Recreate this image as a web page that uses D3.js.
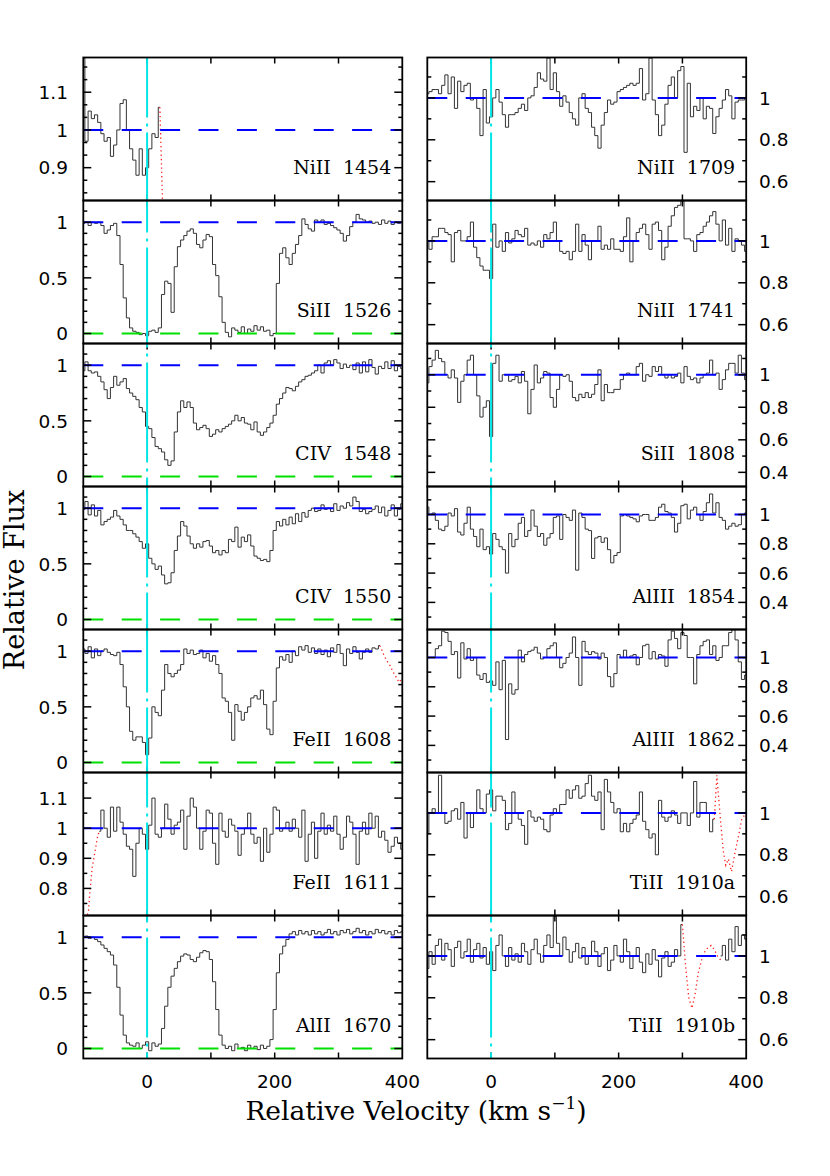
<!DOCTYPE html>
<html><head><meta charset="utf-8">
<script src="https://cdn.jsdelivr.net/npm/d3@7/dist/d3.min.js"></script>
<style>body{margin:0;background:#fff}svg{display:block}</style>
</head><body><svg id="chart" width="830" height="1176"></svg>
<script>
// ---------- data (velocity grid: 5 km/s bins) ----------
const velStep = 5;
const leftLabels  = ["NiII  1454","SiII  1526","CIV  1548","CIV  1550","FeII  1608","FeII  1611","AlII  1670"];
const rightLabels = ["NiII  1709","NiII  1741","SiII  1808","AlIII  1854","AlIII  1862","TiII  1910a","TiII  1910b"];
const xTickLabels = ["0","200","400"];

const NiII1454 = [1.19,0.97,1.05,1.03,1.04,1.02,0.99,0.97,0.98,0.93,0.96,1.00,1.07,1.08,1.00,0.95,0.92,0.88,0.95,0.88,0.90,0.95,0.99,0.98,1.06];
const NiII1454_redV = [20,21,22,23,24,25];
const NiII1454_redF = [1.06,1.00,0.94,0.88,0.82,0.78];

const SiII1526 = [0.99,1.00,0.97,1.00,0.99,1.00,0.97,0.90,0.93,0.97,
0.99,0.88,0.62,0.32,0.14,0.05,0.02,0.01,-0.01,0.00,
-0.02,0.02,0.03,0.01,0.05,0.35,0.47,0.45,0.19,0.60,
0.78,0.84,0.88,0.92,0.94,0.90,0.80,0.77,0.84,0.89,
0.87,0.62,0.52,0.33,0.10,0.01,-0.03,0.05,0.03,0.01,
0.06,0.00,0.04,0.02,0.07,0.03,0.06,0.02,0.03,-0.02,
0.00,0.45,0.72,0.77,0.68,0.62,0.72,0.80,0.88,1.03,
0.98,0.94,0.92,1.02,1.00,1.02,0.98,0.99,0.97,0.95,
0.93,0.90,0.83,0.88,0.96,1.00,1.07,1.03,1.02,1.00,
1.01,0.99,1.00,0.98,1.02,0.99,1.01,0.98,1.00,0.99,1.00];

const CIV1548 = [0.95,1.03,0.95,0.93,0.94,0.90,0.85,0.78,0.70,0.80,
0.90,0.82,0.85,0.88,0.79,0.75,0.72,0.69,0.62,0.58,
0.45,0.43,0.35,0.27,0.25,0.22,0.15,0.10,0.14,0.40,
0.58,0.68,0.62,0.67,0.62,0.48,0.42,0.44,0.46,0.43,
0.36,0.38,0.42,0.40,0.43,0.45,0.47,0.50,0.55,0.50,
0.53,0.48,0.47,0.42,0.49,0.40,0.37,0.40,0.44,0.48,
0.55,0.65,0.70,0.75,0.80,0.79,0.77,0.81,0.85,0.87,
0.90,0.91,0.93,0.95,1.00,0.93,1.02,1.04,1.00,1.05,
1.02,0.97,1.01,0.98,1.00,0.96,1.02,0.93,1.03,0.94,
1.05,0.98,0.92,0.99,0.97,1.03,0.97,1.04,0.95,0.99,0.97];

const CIV1550 = [0.99,1.06,0.94,1.03,0.93,0.98,0.85,0.88,0.90,0.92,
0.98,0.93,0.90,0.85,0.80,0.80,0.77,0.74,0.70,0.64,
0.68,0.55,0.50,0.45,0.48,0.40,0.32,0.33,0.42,0.62,
0.75,0.88,0.84,0.75,0.68,0.64,0.68,0.65,0.70,0.71,
0.66,0.60,0.62,0.58,0.62,0.60,0.72,0.70,0.83,0.65,
0.74,0.70,0.76,0.66,0.57,0.55,0.53,0.54,0.52,0.62,
0.80,0.88,0.84,0.90,0.85,0.92,0.86,0.95,0.88,0.96,
0.92,0.98,1.00,0.97,0.98,1.03,0.99,1.00,0.97,1.04,
0.98,1.02,1.00,1.05,1.02,1.10,1.06,0.97,0.99,0.95,
0.97,0.99,1.02,0.96,1.01,0.93,0.98,1.03,0.93,0.99,1.04];

const FeII1608 = [1.02,0.98,1.04,0.94,1.02,0.96,1.00,1.02,0.99,0.97,
0.96,0.99,0.88,0.68,0.50,0.28,0.20,0.23,0.23,0.18,
0.07,0.22,0.50,0.45,0.42,0.65,0.88,0.80,0.77,0.80,
0.83,0.88,1.02,0.98,1.01,0.97,0.98,1.01,0.94,0.98,
0.91,0.96,0.88,0.80,0.58,0.55,0.45,0.20,0.52,0.46,
0.38,0.45,0.50,0.58,0.60,0.57,0.65,0.52,0.30,0.25,
0.55,0.85,0.95,0.92,0.97,0.90,1.00,0.96,1.04,1.01,
1.05,0.99,1.03,0.98,1.02,0.97,1.01,0.95,1.03,0.99,
1.06,0.98,0.87,1.02,0.98,1.04,0.99,0.93,0.99,1.02,
0.99,1.03,1.02,1.05];
const FeII1608_redV = [365,370,375,380,385,390,395,400];
const FeII1608_redF = [1.05,0.98,0.92,0.88,0.82,0.77,0.72,0.76];

const FeII1611 = [0.99,1.06,1.00,0.97,1.07,0.99,1.07,1.02,0.98,0.94,
0.93,0.84,0.95,1.00,0.98,0.93,1.01,1.10,0.98,0.97,
1.00,1.08,1.03,0.98,1.01,1.02,1.06,0.93,1.04,1.10,
1.07,1.00,0.93,0.99,1.06,1.05,0.95,0.88,1.05,0.99,
0.97,1.03,1.01,0.99,0.91,0.98,1.00,1.05,0.98,0.95,
0.97,0.89,1.00,0.92,0.98,1.07,1.06,0.99,1.00,1.02,
0.99,1.03,1.00,0.97,1.06,0.89,0.98,1.02,0.90,0.99,
1.05,0.98,1.01,0.99,1.04,0.98,0.93,0.97,1.04,1.02,
0.98,0.88,0.99,1.02,0.98,1.05,1.00,1.04,0.97,0.99,
0.96,0.92,0.94,0.97,0.95,0.93];
const FeII1611_redV = [-97,-92,-90,-86,-81,-77,-73];
const FeII1611_redF = [0.70,0.72,0.78,0.87,0.93,0.98,0.99];

const AlII1670 = [1.00,1.01,0.99,1.00,0.98,0.96,0.93,0.90,0.87,0.84,
0.75,0.55,0.30,0.12,0.05,0.03,0.02,0.05,0.00,0.03,
0.06,-0.02,0.05,0.02,0.04,0.18,0.38,0.55,0.65,0.72,
0.78,0.83,0.85,0.84,0.80,0.78,0.82,0.86,0.88,0.87,
0.80,0.60,0.35,0.12,0.03,0.00,0.02,-0.02,0.04,0.00,
0.01,-0.02,0.03,0.00,0.02,-0.01,0.03,0.00,0.02,0.08,
0.35,0.68,0.85,0.92,0.98,1.03,1.05,1.02,1.06,1.03,
1.05,1.02,1.06,1.03,1.05,1.02,1.04,1.07,1.03,1.05,
1.02,1.06,1.04,1.07,1.03,1.05,1.08,1.04,1.06,1.02,
1.05,1.03,1.07,1.04,1.06,1.03,1.05,1.02,1.06,1.04,1.05];

const NiII1709 = [1.02,1.03,1.04,1.04,1.02,1.06,1.11,1.02,1.10,0.95,
1.08,1.03,1.06,1.07,0.99,1.00,0.95,0.82,1.04,0.88,
0.91,1.00,1.04,0.98,0.92,0.86,0.92,0.92,0.93,0.95,
0.97,0.94,1.00,1.01,1.05,1.12,1.09,1.08,1.19,1.04,
1.12,1.03,0.96,1.01,0.98,0.93,0.90,0.87,1.00,1.02,
0.95,0.93,0.86,0.82,0.76,0.87,0.93,0.99,0.97,0.98,
1.03,1.04,1.05,1.06,1.07,1.06,1.07,1.14,0.99,1.02,
1.19,0.99,0.92,0.82,0.87,0.97,1.06,1.10,1.00,1.13,
1.15,0.74,1.07,0.91,0.96,0.94,1.00,0.90,0.96,0.95,
0.83,0.91,0.95,0.99,1.04,1.01,0.90,0.98,0.99,0.99,1.00];

const NiII1741 = [1.00,0.96,1.02,1.02,1.06,1.06,1.04,1.03,0.90,1.04,
1.05,1.00,1.00,1.02,1.09,0.97,0.92,0.88,0.86,0.86,
0.82,1.08,0.97,1.00,0.95,1.04,0.99,1.01,1.05,1.03,
1.02,1.06,0.98,0.99,0.98,1.00,0.97,1.03,1.01,1.04,
1.09,1.00,0.95,0.94,0.95,0.91,0.95,1.08,0.95,1.03,
0.98,0.91,1.00,1.00,1.07,0.96,0.98,0.96,1.01,0.96,
0.96,0.95,1.02,1.11,0.90,1.00,1.04,1.06,1.08,1.03,
0.96,1.08,1.09,1.05,0.91,0.97,1.07,1.12,1.16,1.17,
1.19,1.01,1.01,1.00,0.95,1.03,1.04,1.07,1.09,1.12,
1.14,1.08,1.00,1.10,0.98,1.06,0.95,1.01,1.00,0.98,0.95];

const SiII1808 = [0.95,1.05,1.09,1.15,1.10,1.08,1.00,0.98,1.03,0.98,
0.83,0.96,1.00,1.09,1.12,1.00,0.87,0.74,0.80,0.84,
0.62,1.07,1.12,0.96,1.00,1.00,0.96,0.97,0.99,0.95,
1.02,0.96,0.76,0.91,1.06,0.95,0.98,1.02,1.01,0.86,
0.80,0.91,1.00,0.99,1.00,0.96,0.86,0.84,0.88,0.86,
0.89,0.86,0.88,0.94,1.03,0.84,0.94,0.89,0.89,0.91,
0.91,0.97,1.00,1.01,1.00,1.00,1.05,1.07,0.96,1.00,
0.99,1.05,1.02,1.05,1.00,0.98,1.00,0.98,0.99,1.01,
0.95,1.05,0.99,0.97,0.98,0.95,0.98,1.00,1.01,1.09,
1.00,1.01,0.91,0.97,1.03,1.07,1.07,1.01,1.12,1.01,0.97];

const AlIII1854 = [1.05,1.00,1.01,0.96,0.90,0.89,0.92,1.01,0.99,1.04,
0.88,0.86,0.94,1.05,0.90,0.85,0.78,0.90,0.76,0.78,
0.73,0.87,0.83,0.78,0.76,0.60,0.87,0.78,0.83,0.94,
0.98,0.85,0.89,1.03,0.92,0.85,0.87,0.79,0.84,0.87,
0.98,0.99,0.83,1.00,0.98,0.96,1.03,0.62,1.01,0.98,
0.90,0.89,0.70,0.84,0.85,0.81,0.84,0.76,0.67,0.72,
0.74,0.99,1.00,0.99,0.98,0.97,0.95,0.99,1.00,1.00,
0.96,0.96,0.98,1.05,1.07,1.02,1.01,0.98,0.88,0.94,
1.06,1.07,0.97,1.03,1.05,1.00,0.96,1.02,1.08,1.14,
1.01,1.08,0.98,0.96,0.90,0.92,0.94,0.92,0.93,1.00,1.01];

const AlIII1862 = [1.00,1.00,1.00,1.06,1.08,1.18,1.17,1.11,1.02,1.04,
0.86,1.10,0.99,1.06,0.98,1.00,0.88,0.85,0.89,0.83,
0.84,0.81,0.97,0.78,0.98,0.44,0.82,0.75,0.78,1.05,
0.97,1.02,1.04,1.05,1.07,1.03,0.99,1.00,1.06,1.08,
1.10,1.00,0.93,0.96,1.00,1.03,1.14,1.00,0.81,1.11,
1.04,1.02,1.04,1.03,0.99,1.03,1.00,0.87,0.80,0.89,
1.02,1.00,1.05,1.00,1.01,1.02,0.95,1.00,1.08,1.09,
0.99,1.04,0.99,1.02,1.01,0.94,1.12,1.18,1.13,1.06,
1.17,1.15,1.00,1.00,0.82,1.02,1.08,1.11,1.12,1.02,
1.08,0.98,1.00,1.08,1.08,1.17,1.19,1.12,0.97,0.85,0.88];

const TiII1910a = [0.90,1.00,1.02,1.00,1.18,1.00,0.95,0.96,1.01,1.02,
0.97,1.05,0.88,1.00,0.93,1.00,1.11,1.02,1.00,1.09,
1.11,1.01,1.08,1.08,1.06,0.92,0.95,1.10,1.00,0.97,
0.94,0.85,1.01,0.98,0.96,0.98,0.97,0.92,0.91,0.99,
1.02,1.00,1.04,1.04,1.11,1.07,1.11,1.13,1.07,1.08,
1.14,1.18,1.08,1.06,1.10,0.92,1.16,1.10,1.05,1.00,
1.02,0.91,0.95,0.91,0.95,0.97,0.99,1.10,0.96,0.92,
0.88,0.90,0.80,1.06,0.98,0.96,0.98,1.01,0.99,0.95,
1.00,1.00,0.94,1.00,1.15,0.98,1.05,1.05,1.00,0.91,0.97];
const TiII1910a_redV = [350,354,359,364,368,372,377,383,388,393,400];
const TiII1910a_redF = [0.97,1.18,0.99,0.82,0.75,0.78,0.72,0.82,0.89,0.97,1.00];

const TiII1910b = [0.94,1.02,0.96,1.05,1.08,0.98,1.06,1.03,0.95,1.04,
1.07,0.99,1.02,1.08,0.97,1.03,1.06,0.99,1.04,0.96,
1.02,0.93,1.05,1.10,1.00,0.95,1.04,0.98,1.01,0.97,
1.06,1.02,0.96,1.03,1.08,1.01,0.97,1.05,1.10,1.04,
1.19,1.06,1.00,1.09,1.03,0.97,1.02,1.06,0.99,1.04,
0.96,1.00,1.07,1.02,0.95,1.01,1.04,0.93,0.98,1.05,
1.00,0.97,1.08,1.02,0.94,1.00,1.04,0.97,0.92,1.01,
0.96,1.03,0.98,0.90,0.99,1.02,0.95,0.97,1.03,1.00,1.15];
const TiII1910b_tail = [1.00,1.05,0.98,1.08,1.02,1.14,1.05,1.10,1.08];
const TiII1910b_redV = [300,305,310,315,320,325,330,335,340,345,350,355,360];
const TiII1910b_redF = [1.15,0.95,0.80,0.75,0.82,0.92,0.98,1.02,1.04,1.05,1.03,1.00,0.98];

// axis ranges and ticks
const domZero = [-0.09, 1.195];
const leftDomains  = [[0.813,1.192], domZero, domZero, domZero, domZero, [0.71,1.185], domZero];
const rightDomains = [[0.51,1.193],[0.51,1.193],[0.313,1.192],[0.215,1.191],[0.215,1.191],[0.51,1.193],[0.51,1.193]];
const ticksZero = [0, 0.5, 1];
const leftMajor  = [[0.9,1,1.1], ticksZero, ticksZero, ticksZero, ticksZero, [0.8,0.9,1,1.1], ticksZero];
const leftMinor  = [1/30, 0.1, 0.1, 0.1, 0.1, 0.05, 0.1];
const rightMajor = [[0.6,0.8,1],[0.6,0.8,1],[0.4,0.6,0.8,1],[0.4,0.6,0.8,1],[0.4,0.6,0.8,1],[0.6,0.8,1],[0.6,0.8,1]];
const rightMinor = [0.1,0.1,0.1,0.1,0.1,0.1,0.1];

const leftSeries = [
  {segs:[[-100, NiII1454]], red:[NiII1454_redV, NiII1454_redF]},
  {segs:[[-100, SiII1526]]},
  {segs:[[-100, CIV1548]]},
  {segs:[[-100, CIV1550]]},
  {segs:[[-100, FeII1608]], red:[FeII1608_redV, FeII1608_redF]},
  {segs:[[-75, FeII1611]], red:[FeII1611_redV, FeII1611_redF]},
  {segs:[[-100, AlII1670]]}
];
const rightSeries = [
  {segs:[[-100, NiII1709]]},
  {segs:[[-100, NiII1741]]},
  {segs:[[-100, SiII1808]]},
  {segs:[[-100, AlIII1854]]},
  {segs:[[-100, AlIII1862]]},
  {segs:[[-100, TiII1910a]], red:[TiII1910a_redV, TiII1910a_redF]},
  {segs:[[-100, TiII1910b],[360, TiII1910b_tail]], red:[TiII1910b_redV, TiII1910b_redF]}
];

// ---------- layout ----------
const svg = d3.select("#chart");
const colRanges = [[83.3, 402.3], [427.3, 746.2]];
const top0 = 57.5, ph = 143, nRows = 7;
const xDomain = [-100, 400];
const xMajor = [0, 100, 200, 300];
const sansFont = "DejaVu Sans, sans-serif";
const serifFont = "DejaVu Serif, serif";

const defs = svg.append("defs");

function drawPanel(col, row, label, dom, major, minorStep, series) {
  const x = d3.scaleLinear().domain(xDomain).range(colRanges[col]);
  const y0 = top0 + row * ph, y1 = y0 + ph;
  const y = d3.scaleLinear().domain(dom).range([y1, y0]);
  const id = "clip" + col + "_" + row;
  defs.append("clipPath").attr("id", id).append("rect")
    .attr("x", colRanges[col][0]).attr("y", y0)
    .attr("width", colRanges[col][1] - colRanges[col][0]).attr("height", ph);
  const g = svg.append("g");
  const gc = g.append("g").attr("clip-path", `url(#${id})`);

  const step = d3.line().x(d => x(d[0])).y(d => y(d[1])).curve(d3.curveStep);
  series.segs.forEach(([v0, vals]) => {
    const pts = vals.map((f, i) => [v0 + velStep * i, f]);
    gc.append("path").attr("d", step(pts)).attr("fill", "none")
      .attr("stroke", "#333").attr("stroke-width", 1);
  });
  if (series.red) {
    const pts = series.red[0].map((v, i) => [v, series.red[1][i]]);
    gc.append("path").attr("d", d3.line().x(d => x(d[0])).y(d => y(d[1]))(pts))
      .attr("fill", "none").attr("stroke", "#ff2020").attr("stroke-width", 1.3)
      .attr("stroke-dasharray", "1.3,3");
  }
  // continuum and zero level
  gc.append("line").attr("x1", x(-100)).attr("x2", x(400)).attr("y1", y(1)).attr("y2", y(1))
    .attr("stroke", "#0000ff").attr("stroke-width", 2).attr("stroke-dasharray", "20,18.4");
  if (dom[0] < 0) {
    gc.append("line").attr("x1", x(-100)).attr("x2", x(400)).attr("y1", y(0)).attr("y2", y(0))
      .attr("stroke", "#00e000").attr("stroke-width", 2).attr("stroke-dasharray", "20,18.4");
  }

  // ticks
  const tk = g.append("g").attr("stroke", "#000").attr("stroke-width", 1.5);
  xMajor.forEach(v => {
    tk.append("line").attr("x1", x(v)).attr("x2", x(v)).attr("y1", y0).attr("y2", y0 + 6);
    tk.append("line").attr("x1", x(v)).attr("x2", x(v)).attr("y1", y1).attr("y2", y1 - 6);
  });
  const xl = colRanges[col][0], xr = colRanges[col][1];
  const nMin = Math.ceil(dom[0] / minorStep - 1e-6), nMax = Math.floor(dom[1] / minorStep + 1e-6);
  for (let k = nMin; k <= nMax; k++) {
    const v = k * minorStep;
    const isMajor = major.some(m => Math.abs(m - v) < 1e-6);
    const len = isMajor ? 8 : 4;
    tk.append("line").attr("x1", xl).attr("x2", xl + len).attr("y1", y(v)).attr("y2", y(v));
    tk.append("line").attr("x1", xr).attr("x2", xr - len).attr("y1", y(v)).attr("y2", y(v));
  }
  // y tick labels
  major.forEach(m => {
    g.append("text").attr("x", col === 0 ? 68 : 759).attr("y", y(m))
      .attr("dy", "0.36em").attr("text-anchor", col === 0 ? "end" : "start")
      .attr("font-family", sansFont).attr("font-size", 18.5).attr("fill", "#000")
      .text(String(m));
  });
  // panel label
  g.append("text").attr("x", xr - 11).attr("y", y1 - 27).attr("text-anchor", "end")
    .attr("font-family", serifFont).attr("font-size", 19).attr("fill", "#000")
    .style("white-space", "pre").text(label);
  return {x, g};
}

for (let r = 0; r < nRows; r++) {
  drawPanel(0, r, leftLabels[r], leftDomains[r], leftMajor[r], leftMinor[r], leftSeries[r]);
  drawPanel(1, r, rightLabels[r], rightDomains[r], rightMajor[r], rightMinor[r], rightSeries[r]);
}

// cyan v=0 lines, frames, x labels
[0, 1].forEach(col => {
  const x = d3.scaleLinear().domain(xDomain).range(colRanges[col]);
  svg.append("line").attr("x1", x(0)).attr("x2", x(0)).attr("y1", top0).attr("y2", top0 + nRows * ph)
    .attr("stroke", "#00e5e5").attr("stroke-width", 2).attr("stroke-dasharray", "100,6,3,6")
    .attr("stroke-dashoffset", 40);
  for (let r = 0; r < nRows; r++) {
    svg.append("rect").attr("x", colRanges[col][0]).attr("y", top0 + r * ph)
      .attr("width", colRanges[col][1] - colRanges[col][0]).attr("height", ph)
      .attr("fill", "none").attr("stroke", "#000").attr("stroke-width", 1.8);
  }
  [0, 200, 400].forEach((v, i) => {
    svg.append("text").attr("x", x(v)).attr("y", 1088).attr("text-anchor", "middle")
      .attr("font-family", sansFont).attr("font-size", 18.5).attr("fill", "#000").text(xTickLabels[i]);
  });
});

// axis titles
svg.append("text").attr("transform", "translate(24,580) rotate(-90)").attr("text-anchor", "middle")
  .attr("font-family", serifFont).attr("font-size", 27).attr("fill", "#000").text("Relative Flux");
const xt = svg.append("text").attr("x", 416).attr("y", 1120).attr("text-anchor", "middle")
  .attr("font-family", serifFont).attr("font-size", 26.5).attr("fill", "#000");
xt.append("tspan").text("Relative Velocity (km s");
xt.append("tspan").attr("font-size", 17).attr("dy", -11).text("−1");
xt.append("tspan").attr("dy", 11).text(")");
</script>
</body></html>
